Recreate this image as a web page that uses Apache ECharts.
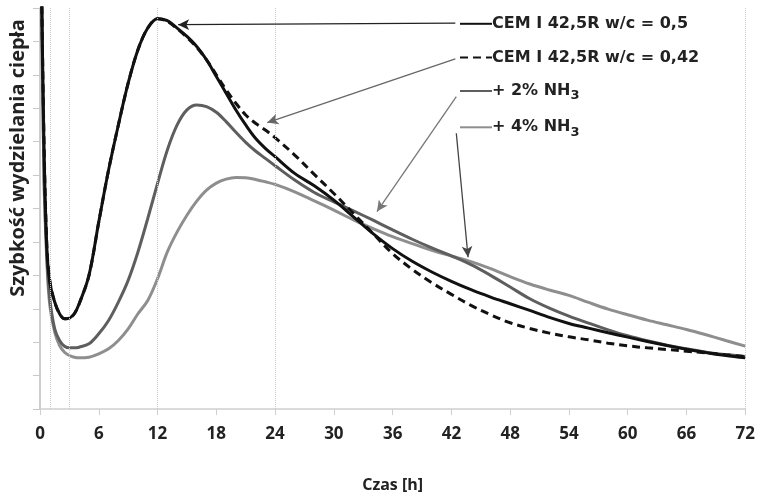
<!DOCTYPE html>
<html>
<head>
<meta charset="utf-8">
<script src="https://cdn.jsdelivr.net/npm/echarts@6/dist/echarts.min.js"></script>
<style>
  html, body { margin: 0; padding: 0; background: #fff; }
  #chart { width: 758px; height: 498px; }
</style>
</head>
<body>
<div id="chart"></div>
<script>
// czas [h]
let hours = [0.1, 0.4, 0.7, 1, 1.5, 2, 2.5, 3, 3.5, 4, 5, 6, 7, 8, 9, 10, 11, 12, 13, 14, 15, 16, 17, 18, 19, 20,
  21, 22, 23, 24, 26, 28, 30, 32, 34, 36, 38, 40, 42, 44, 46, 48, 50, 52, 54, 56, 58, 60, 62, 64, 66, 68, 70, 72];

let cem050 = [14, 8, 4.8, 3.8, 3.2, 2.85, 2.7, 2.72, 2.85, 3.15, 4.0, 5.6, 7.15, 8.5, 9.75, 10.75, 11.4, 11.68, 11.62, 11.4, 11.15, 10.85, 10.45, 9.95, 9.45, 8.95,
  8.5, 8.1, 7.8, 7.55, 7.05, 6.68, 6.25, 5.75, 5.25, 4.8, 4.42, 4.1, 3.82, 3.57, 3.35, 3.15, 2.95, 2.74, 2.56, 2.42, 2.28, 2.15, 2.02, 1.9, 1.79, 1.69, 1.6, 1.53];

let cem042 = [14, 8.2, 4.9, 3.85, 3.2, 2.85, 2.7, 2.72, 2.85, 3.15, 4.0, 5.6, 7.15, 8.5, 9.75, 10.75, 11.4, 11.68, 11.6, 11.38, 11.12, 10.82, 10.45, 10.0, 9.55, 9.15,
  8.8, 8.55, 8.35, 8.12, 7.6, 7.02, 6.45, 5.85, 5.25, 4.65, 4.18, 3.78, 3.43, 3.1, 2.82, 2.58, 2.41, 2.27, 2.16, 2.07, 1.97, 1.89, 1.83, 1.78, 1.73, 1.68, 1.62, 1.57];

let nh3_2 = [14, 7.2, 4.6, 3.3, 2.4, 2.05, 1.88, 1.83, 1.83, 1.85, 1.95, 2.25, 2.65, 3.2, 3.85, 4.7, 5.7, 6.75, 7.75, 8.5, 8.95, 9.1, 9.05, 8.88, 8.6, 8.28,
  7.98, 7.72, 7.5, 7.28, 6.85, 6.48, 6.2, 5.93, 5.65, 5.36, 5.08, 4.82, 4.58, 4.32, 4.0, 3.65, 3.3, 3.02, 2.78, 2.57, 2.37, 2.19, 2.04, 1.91, 1.8, 1.7, 1.63, 1.57];

let nh3_4 = [14, 7.0, 4.4, 3.1, 2.3, 1.9, 1.7, 1.6, 1.55, 1.53, 1.55, 1.65, 1.8, 2.05, 2.4, 2.85, 3.25, 3.9, 4.7, 5.3, 5.8, 6.22, 6.55, 6.76, 6.88, 6.93,
  6.92, 6.87, 6.8, 6.72, 6.5, 6.23, 5.95, 5.66, 5.4, 5.16, 4.95, 4.75, 4.58, 4.41, 4.2, 3.96, 3.74, 3.56, 3.4, 3.19, 2.99, 2.82, 2.66, 2.52, 2.38, 2.22, 2.05, 1.88];

let xTicks = [0, 6, 12, 18, 24, 30, 36, 42, 48, 54, 60, 66, 72];
let guideHours = [1, 3, 12, 24, 72];

let names = ['CEM I 42,5R w/c = 0,5', 'CEM I 42,5R w/c = 0,42', '+ 2% NH3', '+ 4% NH3'];

// strzałki od opisów do krzywych: [start, koniec]
let arrows = [
  [[42.4, 11.55], [14.1, 11.5]],
  [[42.4, 10.48], [23.2, 8.57]],
  [[42.5, 9.35], [34.4, 5.91]],
  [[42.5, 8.25], [43.7, 4.54]]
];

function pairs(vals) {
  return hours.map(function (h, i) { return [h, vals[i]]; });
}

function arrowLine(a, color) {
  return {
    silent: true,
    animation: false,
    symbol: ['none', 'arrow'],
    symbolSize: [8, 11],
    label: { show: false },
    lineStyle: { color: color, width: 1.3, type: 'solid' },
    data: [[{ coord: a[0] }, { coord: a[1] }]]
  };
}

function curve(name, vals, color, type, arrow, arrowColor) {
  return {
    name: name,
    type: 'line',
    data: pairs(vals),
    symbol: 'none',
    smooth: 0.35,
    z: 3,
    lineStyle: { color: color, width: 3, type: type },
    itemStyle: { color: color },
    markLine: arrowLine(arrow, arrowColor)
  };
}

let option = {
  animation: false,
  backgroundColor: '#fff',
  textStyle: { fontFamily: 'Open Sans' },
  grid: { left: 40, right: 12, top: 8, bottom: 88 },
  legend: {
    data: names,
    orient: 'vertical',
    left: 454,
    top: 10,
    itemGap: 16,
    itemWidth: 32,
    itemHeight: 22,
    selectedMode: false,
    itemStyle: { opacity: 0 },
    formatter: function (n) { return n.replace(/NH3$/, 'NH{sub|3}'); },
    textStyle: {
      fontFamily: 'DejaVu Sans', fontWeight: 'bold', fontSize: 16, color: '#222', padding: [0, 0, 0, -5],
      rich: { sub: { fontFamily: 'DejaVu Sans', fontWeight: 'bold', fontSize: 13, color: '#222', padding: [10, 0, 0, 0] } }
    }
  },
  xAxis: {
    type: 'value',
    min: 0,
    max: 72,
    interval: 6,
    name: 'Czas [h]',
    nameLocation: 'middle',
    nameGap: 68,
    nameTextStyle: { fontFamily: 'Open Sans', fontWeight: 'bold', fontSize: 16, color: '#222' },
    axisLine: { lineStyle: { color: '#cfcfcf', width: 1.5 } },
    axisTick: { lineStyle: { color: '#cfcfcf' }, length: 6 },
    axisLabel: {
      fontFamily: 'Open Sans', fontWeight: 'bold', fontSize: 17, color: '#222', margin: 17,
      formatter: function (v) { return xTicks.indexOf(v) >= 0 ? String(v) : ''; }
    },
    splitLine: { show: false }
  },
  yAxis: {
    type: 'value',
    min: 0,
    max: 12,
    interval: 1,
    axisLine: { show: true, lineStyle: { color: '#bdbdbd', width: 1.5 } },
    axisTick: { show: true, length: 7, lineStyle: { color: '#c8c8c8' } },
    axisLabel: { show: false },
    splitLine: { show: false }
  },
  graphic: [{
    type: 'text',
    x: 18,
    y: 158,
    rotation: Math.PI / 2,
    style: {
      text: 'Szybkość wydzielania ciepła',
      fontFamily: 'Open Sans',
      fontWeight: 'bold',
      fontSize: 20,
      fill: '#222',
      align: 'center',
      verticalAlign: 'middle'
    }
  }],
  series: [
    {
      name: 'guides',
      type: 'line',
      data: [],
      z: 1,
      markLine: {
        silent: true,
        animation: false,
        symbol: 'none',
        label: { show: false },
        lineStyle: { color: '#c9c9c9', width: 1, type: 'dotted' },
        data: guideHours.map(function (h) { return { xAxis: h }; })
      }
    },
    curve(names[3], nh3_4, '#8e8e8e', 'solid', arrows[3], '#444'),
    curve(names[2], nh3_2, '#5e5e5e', 'solid', arrows[2], '#777'),
    curve(names[0], cem050, '#111', 'solid', arrows[0], '#222'),
    curve(names[1], cem042, '#111', [8, 5], arrows[1], '#666')
  ]
};

let myChart = echarts.init(document.getElementById('chart'));
myChart.setOption(option);
</script>
</body>
</html>
